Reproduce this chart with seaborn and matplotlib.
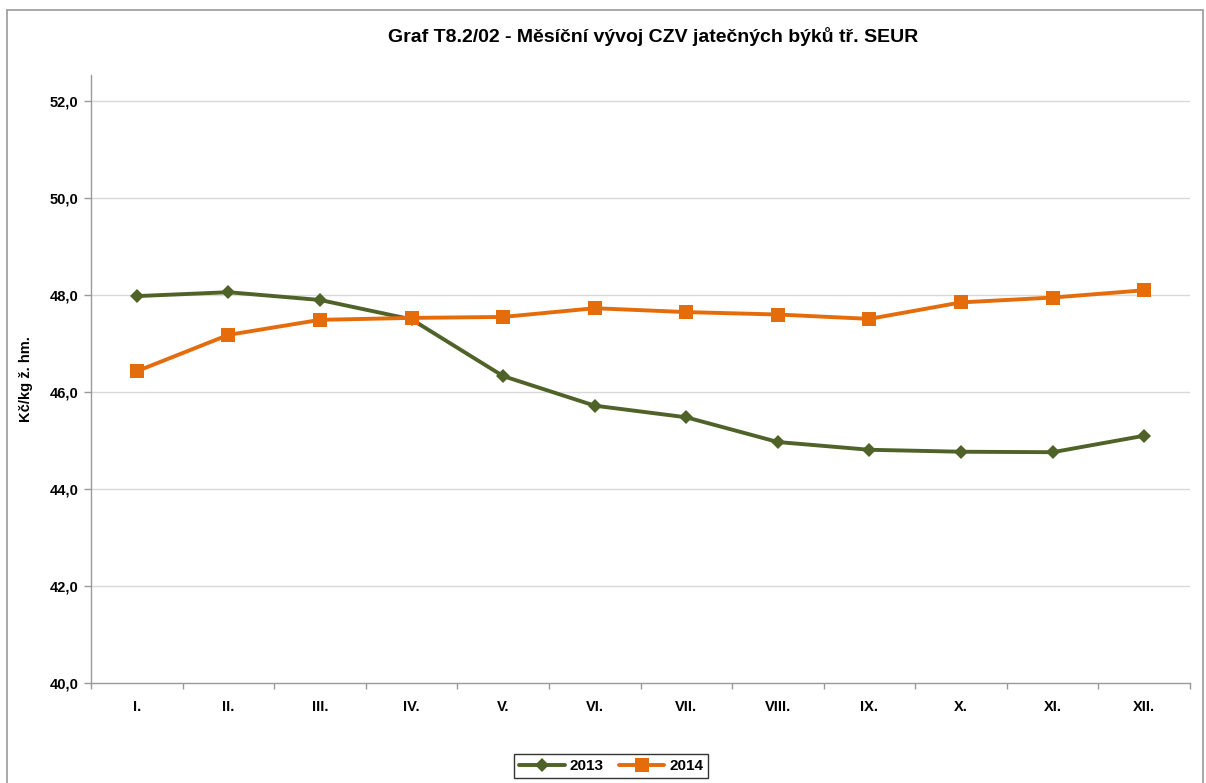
import matplotlib
matplotlib.use("Agg")
import matplotlib.pyplot as plt
import seaborn as sns
import pandas as pd
from matplotlib.patches import Rectangle

months = ["I.", "II.", "III.", "IV.", "V.", "VI.", "VII.", "VIII.", "IX.", "X.", "XI.", "XII."]
v2013 = [47.98, 48.06, 47.90, 47.50, 46.33, 45.72, 45.48, 44.97, 44.81, 44.77, 44.76, 45.10]
v2014 = [46.43, 47.18, 47.49, 47.53, 47.55, 47.73, 47.65, 47.60, 47.51, 47.85, 47.95, 48.10]
years = ["2013", "2014"]
colors = {"2013": "#4F6228", "2014": "#E46C0A"}
markers = {"2013": "D", "2014": "s"}

df = pd.DataFrame({
    "month": months * 2,
    "x": list(range(len(months))) * 2,
    "value": v2013 + v2014,
    "year": ["2013"] * 12 + ["2014"] * 12,
})

sns.set_theme(style="white", rc={"text.color": "black", "axes.labelcolor": "black",
                                 "xtick.color": "black", "ytick.color": "black"})
plt.rcParams['font.family'] = ['Liberation Sans', 'DejaVu Sans']

fig = plt.figure(figsize=(12.06, 7.83), dpi=100)
ax = fig.add_axes([91/1206, 1 - 683/783, (1190 - 91)/1206, (683 - 75)/783])

for y in years:
    sub = df[df.year == y]
    sns.lineplot(data=sub, x="x", y="value", ax=ax, color=colors[y], marker=markers[y],
                 markersize=7 if y == "2013" else 10, linewidth=2.8, markeredgewidth=0,
                 label=y, sort=False)

ax.set_xlim(-0.5, 11.5)
ax.set_ylim(40, 52.54)
ax.set_yticks([40, 42, 44, 46, 48, 50, 52])
ax.set_yticklabels([f"{v:.1f}".replace(".", ",") for v in [40, 42, 44, 46, 48, 50, 52]],
                   fontsize=10.5, fontweight="bold")
ax.set_xticks(range(12))
ax.set_xticklabels(months, fontsize=10.5, fontweight="bold")
ax.set_xticks([i - 0.5 for i in range(13)], minor=True)
ax.tick_params(axis="x", which="major", length=0, pad=12, colors="black")
ax.tick_params(axis="x", which="minor", bottom=True, length=4, color="#999999", width=1)
ax.tick_params(axis="y", which="major", length=5, color="#999999", labelcolor="black",
               width=1, left=True, pad=4)
for yv in [42, 44, 46, 48, 50, 52]:
    ax.axhline(yv, color="#D9D9D9", linewidth=1, zorder=0)
for s in ["top", "right"]:
    ax.spines[s].set_visible(False)
for s in ["left", "bottom"]:
    ax.spines[s].set_color("#999999")
    ax.spines[s].set_linewidth(1)
ax.set_xlabel("")
ax.set_ylabel("Kč/kg ž. hm.", fontsize=10.5, fontweight="bold", labelpad=12, color="black")

fig.text(653/1206, 1 - 36/783, "Graf T8.2/02 - Měsíční vývoj CZV jatečných býků tř. SEUR",
         ha="center", va="center", fontsize=14, fontweight="bold", color="black")

leg = ax.legend(loc="center", bbox_to_anchor=(611/1206, 1 - 766/783), bbox_transform=fig.transFigure,
                ncol=2, frameon=True, fancybox=False, edgecolor="black",
                prop={"weight": "bold", "size": 11}, handlelength=3, columnspacing=1.0,
                handletextpad=0.3, borderpad=0.35)
leg.get_frame().set_linewidth(1)
for t in leg.get_texts():
    t.set_color("black")

fig.patches.append(Rectangle((7/1206, -0.05), (1203 - 7)/1206, 1.05 - 10/783,
                             transform=fig.transFigure, fill=False, edgecolor="#999999",
                             linewidth=1.2))

fig.savefig("out.png", dpi=100)
